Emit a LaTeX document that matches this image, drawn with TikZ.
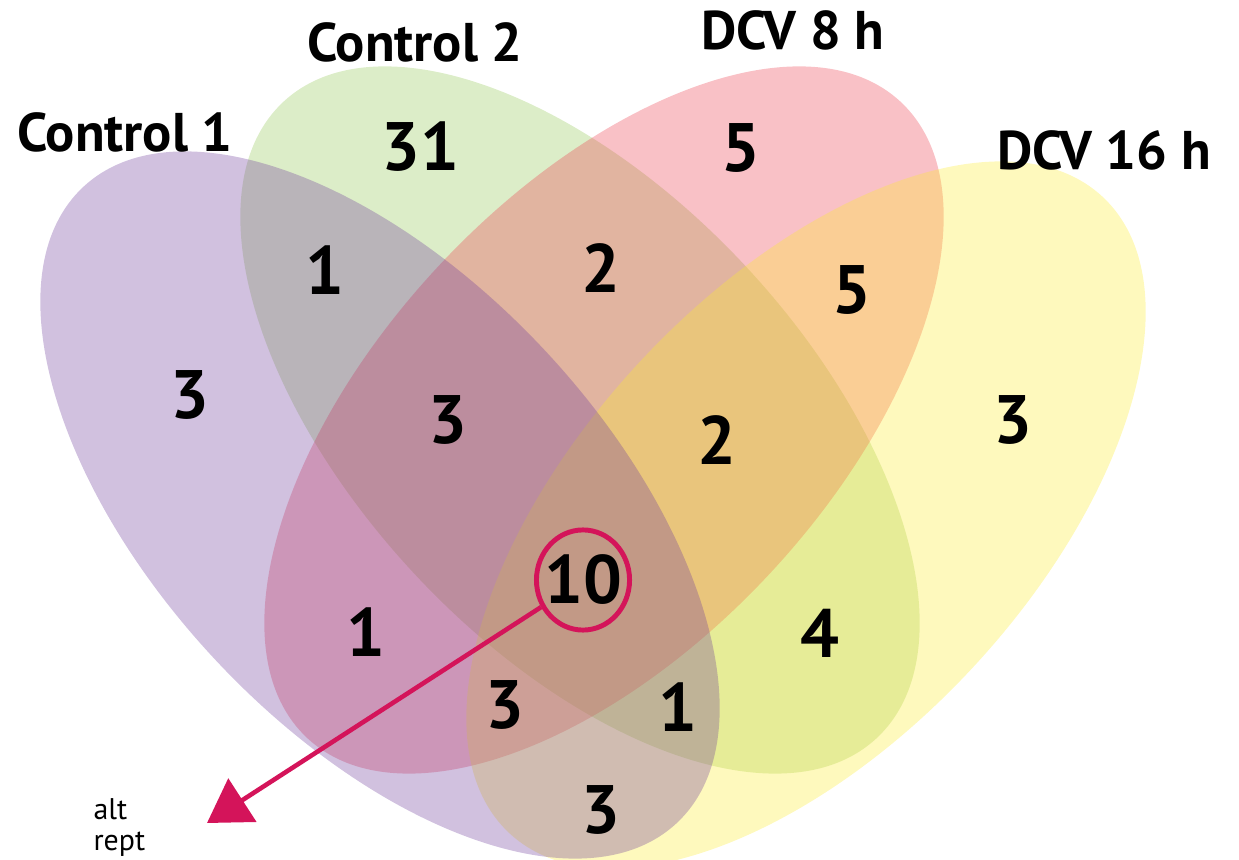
\documentclass[tikz,border=0pt]{standalone}
\usepackage{fontspec}
\setmainfont{PT Sans}
\usepackage{tikz}
\usetikzlibrary{arrows.meta, shapes.geometric}

\definecolor{ctrlone}{HTML}{6F3D9B}
\definecolor{ctrltwo}{HTML}{92C653}
\definecolor{dcveight}{HTML}{EC3D4D}
\definecolor{dcvsixteen}{HTML}{FCEC31}
\definecolor{ringred}{HTML}{D4145A}

\begin{document}
\begin{tikzpicture}[
            x = 0.02cm, y = 0.02cm, % one unit = one pixel
            > = {Triangle[length=24pt, width=29pt]}, % arrow head style
            semithick % line style
        ]

        \tikzstyle{set label}=[
            font = \bfseries\fontsize{31}{31}\selectfont
        ]
        \tikzstyle{tally}=[
            font = \bfseries\fontsize{39}{39}\selectfont
        ]
        \tikzstyle{note}=[
            anchor = base west,
            inner sep = 0pt,
            font = \fontsize{17}{17}\selectfont
        ]
        \tikzstyle{set}=[
            fill opacity = 0.32
        ]

        \useasboundingbox (0,0) rectangle (1239,859);

        % the four sets, drawn back to front
        \fill[set, ctrltwo, rotate around={-47:(580,439)}] (580,439) ellipse [x radius=435, y radius=226];
        \fill[set, dcveight, rotate around={47:(604,439)}] (604,439) ellipse [x radius=435, y radius=226];
        \fill[set, dcvsixteen, rotate around={47:(806,344)}] (806,344) ellipse [x radius=435, y radius=226];
        \fill[set, ctrlone, rotate around={-47:(380,354)}] (380,354) ellipse [x radius=435, y radius=226];

        \node[set label] (c1) at (125,727) {Control 1};
        \node[set label] (c2) at (415,817) {Control 2};
        \node[set label] (d8) at (793,829) {DCV 8 h};
        \node[set label] (d16) at (1104,709) {DCV 16 h};

        \node[tally] (n31) at (420,712) {31};
        \node[tally] (n5a) at (741,711) {5};
        \node[tally] (n1a) at (325,589) {1};
        \node[tally] (n2a) at (601,591) {2};
        \node[tally] (n5b) at (852,569) {5};
        \node[tally] (n3a) at (190,464) {3};
        \node[tally] (n3b) at (448,439) {3};
        \node[tally] (n2b) at (717,419) {2};
        \node[tally] (n3c) at (1013,439) {3};
        \node[tally] (n10) at (583,279) {10};
        \node[tally] (n1b) at (366,227) {1};
        \node[tally] (n4) at (820,226) {4};
        \node[tally] (n3d) at (505,154) {3};
        \node[tally] (n1c) at (678,152) {1};
        \node[tally] (n3e) at (601,49) {3};

        % highlighted count and its pointer
        \node[ellipse, draw=ringred, line width=2.8pt,
            minimum width=53pt, minimum height=57pt] (ring) at (n10) {};

        \node[note] (alt) at (93,40) {alt};
        \node[note] (rept) at (93,9) {rept};

        \coordinate (tip) at (207,36);
        \draw[->, ringred, line width=2.6pt] (ring) -- (tip);

  \end{tikzpicture}
\end{document}
